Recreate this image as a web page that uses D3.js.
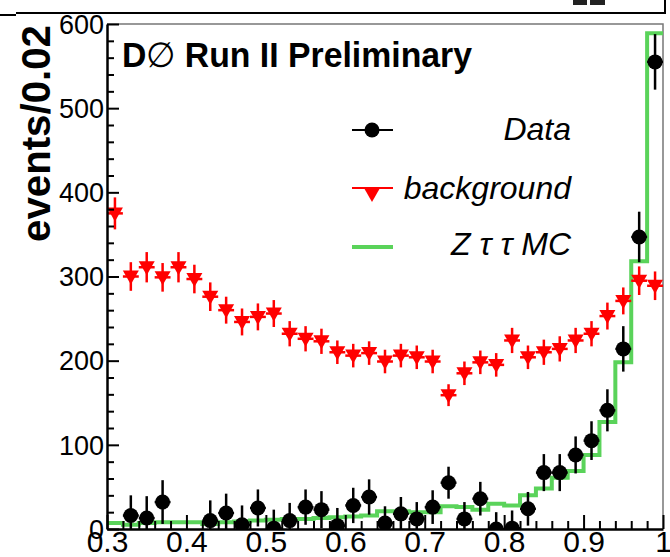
<!DOCTYPE html>
<html>
<head>
<meta charset="utf-8">
<script src="https://cdn.jsdelivr.net/npm/d3@7"></script>
<style>
  html, body { margin: 0; padding: 0; background: #fff; }
  svg { display: block; font-family: "Liberation Sans", Arial, Helvetica, sans-serif; }
</style>
</head>
<body>
<svg id="chart" width="670" height="557"></svg>
<script>
// Bin centres (bin width 0.02) of the discriminant
const binCentres = [0.31, 0.33, 0.35, 0.37, 0.39, 0.41, 0.43, 0.45, 0.47, 0.49,
                    0.51, 0.53, 0.55, 0.57, 0.59, 0.61, 0.63, 0.65, 0.67, 0.69,
                    0.71, 0.73, 0.75, 0.77, 0.79, 0.81, 0.83, 0.85, 0.87, 0.89,
                    0.91, 0.93, 0.95, 0.97, 0.99];
const binWidth = 0.02;

// Data (events per bin) and uncertainties; null = no entry drawn
const dataCounts = [null, 16, 13, 32, null, null, 10, 19, 5, 25,
                    1, 10, 26, 23, 4, 28, 38, 7, 18, 12,
                    26, 55, 12, 36, 0, 1, 24, 67, 67, 88,
                    105, 141, 214, 347, 555];
const dataErrors = [null, 24, 26, 26, null, null, 24, 23, 23, 22,
                    22, 21, 21, 22, 21, 21, 21, 20, 20, 20,
                    20, 19, 20, 20, 20, 21, 20, 22, 22, 22,
                    23, 25, 27, 30, 33];

// Background estimate and uncertainties
const bkgCounts = [375, 300, 311, 299, 311, 297, 276, 260, 246, 252,
                   256, 232, 226, 223, 210, 206, 209, 199, 206, 204,
                   199, 159, 185, 198, 195, 224, 204, 210, 214, 224,
                   232, 253, 271, 295, 289];
const bkgErrors = [19, 17, 18, 17, 18, 17, 17, 16, 16, 16,
                   16, 15, 15, 15, 14, 14, 14, 14, 14, 14,
                   14, 13, 14, 14, 14, 15, 14, 15, 15, 15,
                   15, 16, 16, 17, 17];

// Z -> tau tau Monte Carlo expectation
const mcCounts = [7, 5, 7, 8, 8, 8, 6, 8, 9, 10,
                  11, 12, 12, 13, 14, 15, 16, 21, 21, 20,
                  20, 27, 26, 23, 30, 28, 40, 48, 61, 69,
                  88, 127, 198, 318, 589];

// Axis ticks
const xMajorTicks = [0.3, 0.4, 0.5, 0.6, 0.7, 0.8, 0.9, 1.0];
const xTickLabels = ["0.3", "0.4", "0.5", "0.6", "0.7", "0.8", "0.9", "1"];
const xMinorTicks = [0.32, 0.34, 0.36, 0.38, 0.42, 0.44, 0.46, 0.48, 0.52, 0.54, 0.56, 0.58,
                     0.62, 0.64, 0.66, 0.68, 0.72, 0.74, 0.76, 0.78, 0.82, 0.84, 0.86, 0.88,
                     0.92, 0.94, 0.96, 0.98];
const yMajorTicks = [0, 100, 200, 300, 400, 500, 600];
const yTickLabels = ["0", "100", "200", "300", "400", "500", "600"];
const yMinorTicks = [20, 40, 60, 80, 120, 140, 160, 180, 220, 240, 260, 280,
                     320, 340, 360, 380, 420, 440, 460, 480, 520, 540, 560, 580];

const legendLabels = ["Data", "background", "Z \u03c4 \u03c4 MC"];

const svg = d3.select("#chart");
const frame = { left: 107, right: 663, top: 24, bottom: 529 };
const green = "#5ad35a";

const x = d3.scaleLinear().domain([0.3, 1.0]).range([frame.left, frame.right]);
const y = d3.scaleLinear().domain([0, 600]).range([frame.bottom, frame.top]);

// Remains of the panel above
const topDeco = svg.append("g").attr("stroke", "#000").attr("stroke-width", 2);
topDeco.append("line").attr("x1", 16).attr("x2", 666).attr("y1", 13).attr("y2", 13);
topDeco.append("line").attr("x1", 0).attr("x2", 16).attr("y1", 15).attr("y2", 15);
topDeco.append("line").attr("x1", 665).attr("x2", 665).attr("y1", 0).attr("y2", 13);
svg.append("rect").attr("x", 573).attr("y", 0).attr("width", 14).attr("height", 5).attr("fill", "#222");
svg.append("rect").attr("x", 590).attr("y", 0).attr("width", 15).attr("height", 5).attr("fill", "#222");

// Frame: grey top and right edges
svg.append("path")
  .attr("d", `M${frame.left},${frame.top}H${frame.right}V${frame.bottom}`)
  .attr("fill", "none").attr("stroke", "#777").attr("stroke-width", 1.5);

svg.append("defs").append("clipPath").attr("id", "plotClip")
  .append("rect").attr("x", frame.left).attr("y", frame.top)
  .attr("width", frame.right - frame.left).attr("height", frame.bottom - frame.top);

const plot = svg.append("g").attr("clip-path", "url(#plotClip)");

// MC histogram as a step line
const stepPts = [];
binCentres.forEach((c, i) => {
  stepPts.push([c - binWidth / 2, mcCounts[i]]);
  stepPts.push([c + binWidth / 2, mcCounts[i]]);
});
plot.append("path")
  .datum(stepPts)
  .attr("d", d3.line().x(d => x(d[0])).y(d => y(d[1])))
  .attr("fill", "none").attr("stroke", green).attr("stroke-width", 4)
  .attr("stroke-linejoin", "miter");

// Background: red down-pointing triangles with error bars
const bkg = binCentres.map((c, i) => ({ c, v: bkgCounts[i], e: bkgErrors[i] }));
const bkgG = plot.append("g").attr("stroke", "#ff0000").attr("stroke-width", 2.5);
bkgG.selectAll("line.ey").data(bkg).join("line")
  .attr("x1", d => x(d.c)).attr("x2", d => x(d.c))
  .attr("y1", d => y(d.v - d.e)).attr("y2", d => y(d.v + d.e));
bkgG.selectAll("line.ex").data(bkg).join("line")
  .attr("x1", d => x(d.c - binWidth / 2)).attr("x2", d => x(d.c + binWidth / 2))
  .attr("y1", d => y(d.v)).attr("y2", d => y(d.v));
const tri = (cx, cy) => `M${cx - 8},${cy - 6}L${cx + 8},${cy - 6}L${cx},${cy + 8}Z`;
plot.append("g").selectAll("path").data(bkg).join("path")
  .attr("d", d => tri(x(d.c), y(d.v)))
  .attr("fill", "#ff0000");

// Data: black circles with error bars
const data = binCentres.map((c, i) => ({ c, v: dataCounts[i], e: dataErrors[i] }))
  .filter(d => d.v !== null);
const dataG = plot.append("g").attr("stroke", "#000").attr("stroke-width", 2.5);
dataG.selectAll("line.ey").data(data).join("line")
  .attr("x1", d => x(d.c)).attr("x2", d => x(d.c))
  .attr("y1", d => y(d.v - d.e)).attr("y2", d => y(d.v + d.e));
dataG.selectAll("line.ex").data(data).join("line")
  .attr("x1", d => x(d.c - binWidth / 2)).attr("x2", d => x(d.c + binWidth / 2))
  .attr("y1", d => y(d.v)).attr("y2", d => y(d.v));
plot.append("g").selectAll("circle").data(data).join("circle")
  .attr("cx", d => x(d.c)).attr("cy", d => y(d.v)).attr("r", 7.5)
  .attr("fill", "#000");

// Axes (ticks point into the frame)
const xAxis = svg.append("g").attr("transform", `translate(0,${frame.bottom})`)
  .call(d3.axisBottom(x).tickValues(xMajorTicks).tickSize(-14).tickSizeOuter(0)
        .tickPadding(0).tickFormat((d, i) => xTickLabels[i]));
svg.append("g").attr("transform", `translate(0,${frame.bottom})`)
  .call(d3.axisBottom(x).tickValues(xMinorTicks).tickSize(-8).tickSizeOuter(0).tickFormat(""))
  .call(g => g.select(".domain").remove());

const yAxis = svg.append("g").attr("transform", `translate(${frame.left},0)`)
  .call(d3.axisLeft(y).tickValues(yMajorTicks).tickSize(-12).tickSizeOuter(0)
        .tickPadding(4).tickFormat((d, i) => yTickLabels[i]));
svg.append("g").attr("transform", `translate(${frame.left},0)`)
  .call(d3.axisLeft(y).tickValues(yMinorTicks).tickSize(-7).tickSizeOuter(0).tickFormat(""))
  .call(g => g.select(".domain").remove());

svg.selectAll(".tick line").attr("stroke", "#000").attr("stroke-width", 2);
svg.selectAll(".domain").attr("stroke", "#000").attr("stroke-width", 2.5);

xAxis.selectAll("text")
  .attr("font-family", "'Liberation Sans', Arial, sans-serif")
  .attr("font-size", 30).attr("fill", "#000")
  .attr("dy", "0.77em");
yAxis.selectAll("text")
  .attr("font-family", "'Liberation Sans', Arial, sans-serif")
  .attr("font-size", 27).attr("fill", "#000")
  .attr("x", -3).attr("dy", "0.34em");

// Y-axis title
svg.append("text")
  .attr("transform", "translate(50,242) rotate(-90)")
  .attr("font-size", 40).attr("font-weight", "bold")
  .attr("textLength", 217).attr("lengthAdjust", "spacingAndGlyphs")
  .text("events/0.02");

// Experiment label
const lab = svg.append("text")
  .attr("x", 122).attr("y", 67)
  .attr("font-size", 35).attr("font-weight", "bold")
  .attr("textLength", 350).attr("lengthAdjust", "spacingAndGlyphs");
lab.append("tspan").text("D");
lab.append("tspan").attr("font-weight", "normal").text("\u2205");
lab.append("tspan").text(" Run II Preliminary");

// Legend
const leg = svg.append("g");
const legX1 = 352, legX2 = 393, legM = 372;
// Data entry
leg.append("line").attr("x1", legX1).attr("x2", legX2).attr("y1", 130).attr("y2", 130)
  .attr("stroke", "#000").attr("stroke-width", 2);
leg.append("circle").attr("cx", legM).attr("cy", 130).attr("r", 7.5).attr("fill", "#000");
// Background entry
leg.append("line").attr("x1", legX1).attr("x2", legX2).attr("y1", 188).attr("y2", 188)
  .attr("stroke", "#ff0000").attr("stroke-width", 2);
leg.append("path").attr("d", tri(legM, 194)).attr("fill", "#ff0000");
// MC entry
leg.append("line").attr("x1", legX1).attr("x2", legX2).attr("y1", 247).attr("y2", 247)
  .attr("stroke", green).attr("stroke-width", 4);

const legYs = [140, 199, 255];
leg.selectAll("text").data(legendLabels).join("text")
  .attr("x", 571).attr("y", (d, i) => legYs[i])
  .attr("text-anchor", "end")
  .attr("font-size", 32).attr("font-style", "italic")
  .text(d => d);
</script>
</body>
</html>
